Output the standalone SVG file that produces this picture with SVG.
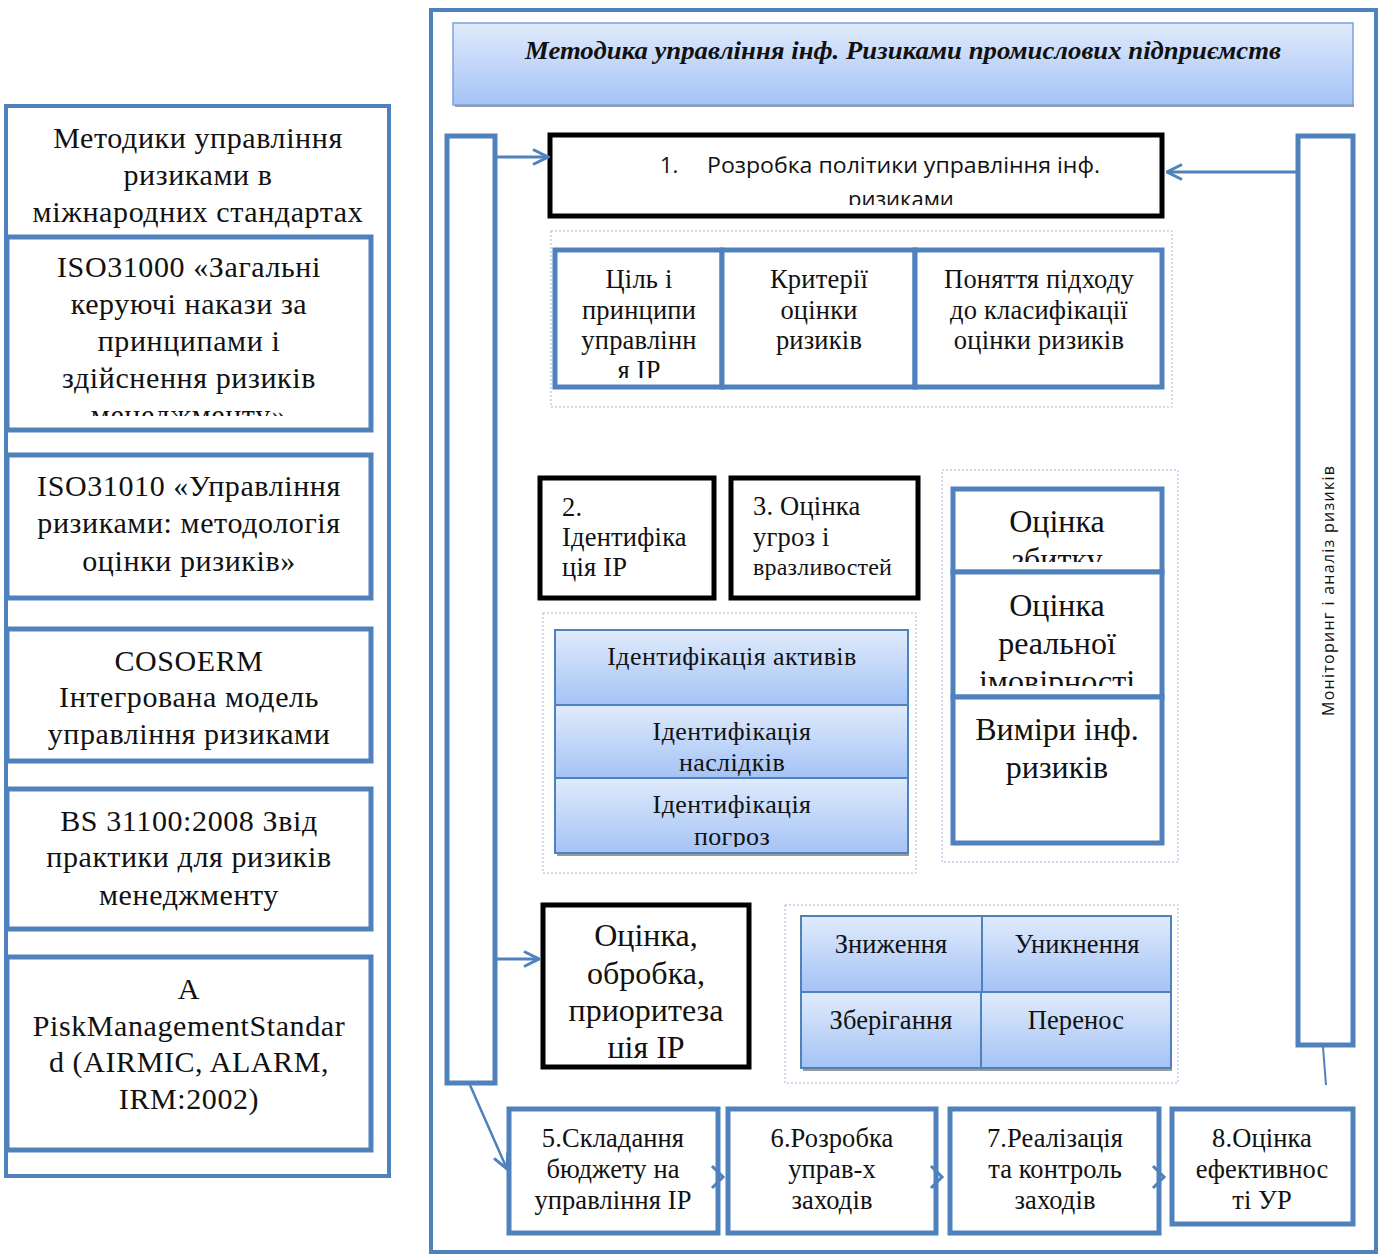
<svg xmlns="http://www.w3.org/2000/svg" width="1378" height="1254" viewBox="0 0 1378 1254">
<style>
.bl{fill:#fff;stroke:#4F81BD;stroke-width:5}
.bk{fill:#fff;stroke:#000;stroke-width:5}
.dot{fill:none;stroke:#9bb7dd;stroke-width:1;stroke-dasharray:2 2}
.gr{fill:url(#g);stroke:#4F81BD;stroke-width:2}
.sh{fill:#9a9a9a}
.s{font-family:"Liberation Serif","Times New Roman",serif;fill:#111}
.c{text-anchor:middle}
.sans{font-family:"Open Sans","Liberation Sans",sans-serif;fill:#111}
.ln{fill:none;stroke:#4F81BD;stroke-width:3}
.lc{font-size:30px;letter-spacing:0.6px}
.big{font-size:32px}
.mid{font-size:26.5px;letter-spacing:0.2px}
.sm{font-size:26px;letter-spacing:0.4px}
.bt{font-size:26.5px;letter-spacing:0.1px}
</style>
<defs>
<linearGradient id="g" x1="0" y1="0" x2="0" y2="1">
<stop offset="0" stop-color="#e0ebfc"/>
<stop offset="1" stop-color="#a4c3f5"/>
</linearGradient>
<marker id="ah" viewBox="0 0 12 12" refX="11" refY="6" markerWidth="18" markerHeight="18" markerUnits="userSpaceOnUse" orient="auto">
<path d="M1,1 L11,6 L1,11" fill="none" stroke="#4F81BD" stroke-width="2"/>
</marker>
<clipPath id="c1"><rect x="550" y="135" width="612" height="70"/></clipPath>
<clipPath id="c2"><rect x="0" y="236" width="380" height="180"/></clipPath>
<clipPath id="c3"><rect x="555" y="250" width="167" height="128"/></clipPath>
<clipPath id="c4"><rect x="953" y="489" width="209" height="73"/></clipPath>
<clipPath id="c5"><rect x="953" y="572" width="209" height="114"/></clipPath>
<clipPath id="c6"><rect x="555" y="778" width="353" height="69"/></clipPath>
<clipPath id="c7"><rect x="543" y="905" width="206" height="153"/></clipPath>
<clipPath id="c8"><rect x="1300" y="463" width="50" height="260"/></clipPath>
</defs>
<rect width="1378" height="1254" fill="#fff"/>

<g id="left-frame">
<rect x="6" y="106" width="383" height="1070" fill="#fff" stroke="#4F81BD" stroke-width="4"/>
<text class="s c lc"><tspan x="198" y="148">Методики управління</tspan><tspan x="198" y="185">ризиками в</tspan><tspan x="198" y="222">міжнародних стандартах</tspan></text>
</g>
<g id="iso31000">
<rect class="bl" x="7" y="237" width="364" height="193"/>
<text class="s c lc" clip-path="url(#c2)"><tspan x="189" y="277">ISO31000 «Загальні</tspan><tspan x="189" y="314">керуючі накази за</tspan><tspan x="189" y="351">принципами і</tspan><tspan x="189" y="388">здійснення ризиків</tspan><tspan x="189" y="425">менеджменту»</tspan></text>
</g>
<g id="iso31010">
<rect class="bl" x="7" y="455" width="364" height="143"/>
<text class="s c lc"><tspan x="189" y="496">ISO31010 «Управління</tspan><tspan x="189" y="533">ризиками: методологія</tspan><tspan x="189" y="571">оцінки ризиків»</tspan></text>
</g>
<g id="coso">
<rect class="bl" x="7" y="629" width="364" height="132"/>
<text class="s c lc"><tspan x="189" y="671">COSOERM</tspan><tspan x="189" y="707">Інтегрована модель</tspan><tspan x="189" y="744">управління ризиками</tspan></text>
</g>
<g id="bs">
<rect class="bl" x="7" y="789" width="364" height="140"/>
<text class="s c lc"><tspan x="189" y="831">BS 31100:2008 Звід</tspan><tspan x="189" y="867">практики для ризиків</tspan><tspan x="189" y="905">менеджменту</tspan></text>
</g>
<g id="airmic">
<rect class="bl" x="7" y="957" width="364" height="193"/>
<text class="s c lc"><tspan x="189" y="999">A</tspan><tspan x="189" y="1036">PiskManagementStandar</tspan><tspan x="189" y="1072">d (AIRMIC, ALARM,</tspan><tspan x="189" y="1109">IRM:2002)</tspan></text>
</g>

<g id="main-frame">
<rect x="431" y="10" width="945" height="1242" fill="#fff" stroke="#4F81BD" stroke-width="4"/>
</g>
<g id="title">
<rect class="sh" x="455" y="103" width="899" height="4"/>
<rect x="453" y="23" width="900" height="82" fill="url(#g)" stroke="#7ea3d8" stroke-width="1.5"/>
<text class="s c" x="903" y="59" font-size="26" font-weight="bold" font-style="italic" textLength="756" lengthAdjust="spacingAndGlyphs">Методика управління інф. Ризиками промислових підприємств</text>
</g>
<g id="left-bar"><rect class="bl" x="447" y="136" width="48" height="947"/></g>
<g id="right-bar">
<rect class="bl" x="1298" y="136" width="55" height="909"/>
<g clip-path="url(#c8)"><text class="sans" font-size="16" textLength="250" lengthAdjust="spacing" transform="translate(1334,716) rotate(-90)">Моніторинг і аналіз ризиків</text></g>
</g>

<g id="step1">
<rect class="bk" x="550" y="135" width="612" height="81"/>
<text class="sans" font-size="22" clip-path="url(#c1)"><tspan x="660" y="173">1.</tspan><tspan x="707" y="173" textLength="393" lengthAdjust="spacingAndGlyphs">Розробка політики управління інф.</tspan><tspan x="848" y="207">ризиками</tspan></text>
</g>
<g id="policy-group">
<rect class="dot" x="551" y="231" width="621" height="176"/>
<g id="goal"><rect class="bl" x="555" y="250" width="167" height="137"/>
<text class="s c mid" clip-path="url(#c3)"><tspan x="639" y="288">Ціль і</tspan><tspan x="639" y="319">принципи</tspan><tspan x="639" y="349">управлінн</tspan><tspan x="639" y="379">я ІР</tspan></text></g>
<g id="criteria"><rect class="bl" x="722" y="250" width="193" height="137"/>
<text class="s c mid"><tspan x="819" y="288">Критерії</tspan><tspan x="819" y="319">оцінки</tspan><tspan x="819" y="349">ризиків</tspan></text></g>
<g id="concept"><rect class="bl" x="915" y="250" width="247" height="137"/>
<text class="s c mid"><tspan x="1039" y="288">Поняття підходу</tspan><tspan x="1039" y="319">до класифікації</tspan><tspan x="1039" y="349">оцінки ризиків</tspan></text></g>
</g>

<g id="step2">
<rect class="bk" x="540" y="478" width="174" height="120"/>
<text class="s mid"><tspan x="562" y="516">2.</tspan><tspan x="562" y="546">Ідентифіка</tspan><tspan x="562" y="576">ція ІР</tspan></text>
</g>
<g id="step3">
<rect class="bk" x="731" y="478" width="187" height="120"/>
<text class="s mid"><tspan x="753" y="515">3. Оцінка</tspan><tspan x="753" y="546">угроз і</tspan><tspan x="753" y="575" font-size="24">вразливостей</tspan></text>
</g>

<g id="ident-group">
<rect class="dot" x="543" y="613" width="373" height="260"/>
<rect class="sh" x="557" y="851" width="352" height="5"/>
<g id="ident-assets"><rect class="gr" x="555" y="630" width="353" height="75"/>
<text class="s c sm" x="732" y="665">Ідентифікація активів</text></g>
<g id="ident-cons"><rect class="gr" x="555" y="705" width="353" height="73"/>
<text class="s c sm"><tspan x="732" y="740">Ідентифікація</tspan><tspan x="732" y="771">наслідків</tspan></text></g>
<g id="ident-threats"><rect class="gr" x="555" y="778" width="353" height="75"/>
<text class="s c sm" clip-path="url(#c6)"><tspan x="732" y="813">Ідентифікація</tspan><tspan x="732" y="845">погроз</tspan></text></g>
</g>

<g id="assess-group">
<rect class="dot" x="942" y="470" width="236" height="392"/>
<g id="damage"><rect class="bl" x="953" y="489" width="209" height="83"/>
<text class="s c big" clip-path="url(#c4)"><tspan x="1057" y="532">Оцінка</tspan><tspan x="1057" y="570">збитку</tspan></text></g>
<g id="probability"><rect class="bl" x="953" y="572" width="209" height="125"/>
<text class="s c big" clip-path="url(#c5)"><tspan x="1057" y="616">Оцінка</tspan><tspan x="1057" y="654">реальної</tspan><tspan x="1057" y="692">імовірності</tspan></text></g>
<g id="measures"><rect class="bl" x="953" y="697" width="209" height="146"/>
<text class="s c big"><tspan x="1057" y="740">Виміри інф.</tspan><tspan x="1057" y="778">ризиків</tspan></text></g>
</g>

<g id="step4">
<rect class="bk" x="543" y="905" width="206" height="162"/>
<text class="s c big" clip-path="url(#c7)"><tspan x="646" y="946">Оцінка,</tspan><tspan x="646" y="984">обробка,</tspan><tspan x="646" y="1021">приоритеза</tspan><tspan x="646" y="1058">ція ІР</tspan></text>
</g>

<g id="treat-group">
<rect class="dot" x="785" y="905" width="393" height="178"/>
<rect class="sh" x="803" y="1066" width="369" height="5"/>
<g id="reduce"><rect class="gr" x="801" y="916" width="181" height="76"/>
<text class="s c bt" x="891" y="953">Зниження</text></g>
<g id="avoid"><rect class="gr" x="982" y="916" width="189" height="76"/>
<text class="s c bt" x="1077" y="953">Уникнення</text></g>
<g id="retain"><rect class="gr" x="801" y="992" width="180" height="76"/>
<text class="s c bt" x="891" y="1029">Зберігання</text></g>
<g id="transfer"><rect class="gr" x="981" y="992" width="190" height="76"/>
<text class="s c bt" x="1076" y="1029">Перенос</text></g>
</g>

<g id="step5"><rect class="bl" x="509" y="1109" width="209" height="124"/>
<text class="s c bt"><tspan x="613" y="1147">5.Складання</tspan><tspan x="613" y="1178">бюджету на</tspan><tspan x="613" y="1209">управління ІР</tspan></text></g>
<g id="step6"><rect class="bl" x="728" y="1109" width="208" height="124"/>
<text class="s c bt"><tspan x="832" y="1147">6.Розробка</tspan><tspan x="832" y="1178">управ-х</tspan><tspan x="832" y="1209">заходів</tspan></text></g>
<g id="step7"><rect class="bl" x="950" y="1109" width="209" height="124"/>
<text class="s c bt"><tspan x="1055" y="1147">7.Реалізація</tspan><tspan x="1055" y="1178">та контроль</tspan><tspan x="1055" y="1209">заходів</tspan></text></g>
<g id="step8"><rect class="bl" x="1172" y="1109" width="181" height="115"/>
<text class="s c bt"><tspan x="1262" y="1147">8.Оцінка</tspan><tspan x="1262" y="1178">ефективнос</tspan><tspan x="1262" y="1209">ті УР</tspan></text></g>

<g id="connectors">
<line class="ln" x1="497" y1="157" x2="548" y2="157" marker-end="url(#ah)"/>
<line class="ln" x1="1296" y1="172" x2="1167" y2="172" marker-end="url(#ah)"/>
<line class="ln" x1="497" y1="959" x2="539" y2="959" marker-end="url(#ah)"/>
<line x1="470" y1="1085" x2="507" y2="1169" stroke="#4F81BD" stroke-width="2.5" marker-end="url(#ah)"/>
<line x1="1323" y1="1047" x2="1326" y2="1085" stroke="#4F81BD" stroke-width="2"/>
<polyline class="ln" points="712,1166 723,1177 712,1188"/>
<polyline class="ln" points="931,1166 942,1177 931,1188"/>
<polyline class="ln" points="1153,1166 1164,1177 1153,1188"/>
</g>
</svg>
